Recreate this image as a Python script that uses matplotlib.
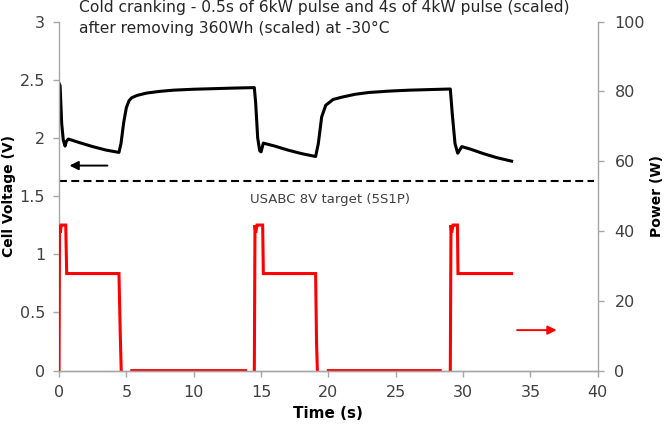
import numpy as np
import matplotlib
matplotlib.use("Agg")
import matplotlib.pyplot as plt

# --- data ---
nan = np.nan

# cell voltage (V), left axis
volt_t = [0.0, 0.08, 0.2, 0.32, 0.45, 0.55, 0.69, 1.5, 2.5, 3.5, 4.45,
          4.6, 4.8, 5.0, 5.2, 5.4, 5.8, 6.5, 7.5, 8.5, 10.0, 11.5, 13.0, 14.5,
          14.6, 14.75, 14.9, 15.0, 15.17, 16.0, 17.0, 18.0, 19.05,
          19.25, 19.5, 19.8, 20.35, 21.0, 22.0, 23.0, 24.5, 26.0, 27.5, 29.05,
          29.2, 29.4, 29.6, 29.9, 30.5, 31.5, 32.5, 33.6]
volt_v = [2.47, 2.45, 2.12, 1.98, 1.93, 1.97, 1.99, 1.96, 1.925, 1.895, 1.875,
          1.95, 2.13, 2.26, 2.32, 2.345, 2.365, 2.385, 2.40, 2.41, 2.418, 2.423, 2.428, 2.432,
          2.3, 2.0, 1.89, 1.88, 1.955, 1.93, 1.895, 1.865, 1.84,
          1.95, 2.18, 2.28, 2.33, 2.35, 2.375, 2.39, 2.402, 2.41, 2.415, 2.42,
          2.2, 1.95, 1.868, 1.925, 1.905, 1.865, 1.83, 1.80]

# power (W), right axis (nan = gaps in the trace)
power_t = [0.0, 0.04, 0.1, 0.16, 0.22, 0.5, 0.57, 0.6, 4.45, 4.55, 4.62, nan,
           5.4, 13.85, nan,
           14.5, 14.55, 14.6, 14.7, 14.8, 15.12, 15.17, 15.2, 19.05, 19.12, 19.18, nan,
           20.0, 28.3, nan,
           29.05, 29.1, 29.15, 29.25, 29.35, 29.58, 29.62, 29.65, 33.6]
power_w = [0.0, 41.7, 39.5, 41.7, 41.7, 41.7, 27.8, 27.8, 27.8, 10.0, 0.0, nan,
           0.0, 0.0, nan,
           0.0, 41.7, 39.5, 41.7, 41.7, 41.7, 27.8, 27.8, 27.8, 8.0, 0.0, nan,
           0.0, 0.0, nan,
           0.0, 41.7, 39.5, 41.7, 41.7, 41.7, 27.8, 27.8, 27.8]

target_v = 1.63
title_lines = ["Cold cranking - 0.5s of 6kW pulse and 4s of 4kW pulse (scaled)",
               "after removing 360Wh (scaled) at -30\u00b0C"]
target_label = "USABC 8V target (5S1P)"

# --- figure ---
plt.rcParams['font.family'] = ['DejaVu Sans']
grey = '#a6a6a6'
txt = '#404040'

fig = plt.figure(figsize=(6.66, 4.26), dpi=100)
ax = fig.add_axes([0.0886, 0.130, 0.809, 0.8195])
ax2 = ax.twinx()

ax.plot(volt_t, volt_v, color='black', lw=2.2, solid_joinstyle='round')
ax.plot([0, 39.7], [target_v, target_v], color='black', lw=1.5, dashes=(3.8, 2.1))
ax.text(20.1, 1.44, target_label, ha='center', va='baseline', fontsize=9.5, color=txt)
ax.annotate('', xy=(0.57, 1.762), xytext=(3.8, 1.762),
            arrowprops=dict(arrowstyle='-|>', color='black', lw=1.4, mutation_scale=13))

ax2.plot(power_t, power_w, color='#ff0000', lw=2.2, solid_joinstyle='miter')
ax2.annotate('', xy=(37.15, 11.6), xytext=(33.8, 11.6),
             arrowprops=dict(arrowstyle='-|>', color='#ff0000', lw=1.4, mutation_scale=13))

ax.set_xlim(0, 40)
ax.set_ylim(0, 3)
ax2.set_ylim(0, 100)
ax.set_xticks(np.arange(0, 41, 5))
ax.set_yticks([0, 0.5, 1, 1.5, 2, 2.5, 3])
ax.set_yticklabels(['0', '0.5', '1', '1.5', '2', '2.5', '3'])
ax2.set_yticks(np.arange(0, 101, 20))

for a in (ax, ax2):
    for s in a.spines.values():
        s.set_color(grey)
        s.set_linewidth(1.0)
    a.spines['top'].set_visible(False)
    a.tick_params(direction='out', length=4, width=1.0, color=grey,
                  labelcolor=txt, labelsize=11.5)
ax.spines['right'].set_visible(False)
ax2.spines['left'].set_visible(False)
ax.tick_params(axis='x', pad=6)
ax.tick_params(axis='y', pad=6)
ax2.tick_params(axis='y', pad=8)

ax.set_xlabel('Time (s)', fontsize=11, fontweight='bold', color='black', labelpad=5)
ax.set_ylabel('Cell Voltage (V)', fontsize=10, fontweight='bold', color='black')
ax2.set_ylabel('Power (W)', fontsize=10, fontweight='bold', color='black', rotation=90)
ax.yaxis.set_label_coords(-0.080, 0.5)
ax2.yaxis.set_label_coords(1.097, 0.5)

fig.text(79 / 666, 1 - 12 / 426, title_lines[0], fontsize=11.2, color='#262626', va='baseline')
fig.text(79 / 666, 1 - 33 / 426, title_lines[1], fontsize=11.2, color='#262626', va='baseline')

fig.savefig('out.png', dpi=100)
